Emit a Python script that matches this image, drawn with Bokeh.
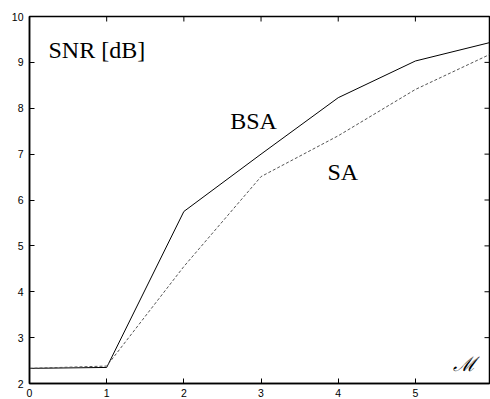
from bokeh.plotting import figure
from bokeh.models import LinearAxis, FixedTicker, Range1d
from bokeh.core.properties import value
from bokeh.embed import file_html
from bokeh.resources import INLINE

m_values = [0, 1, 2, 3, 4, 5, 5.96]
snr_bsa = [2.33, 2.35, 5.75, 7.0, 8.23, 9.03, 9.43]
snr_sa = [2.33, 2.38, 4.55, 6.51, 7.40, 8.41, 9.17]
x_ticks = [0, 1, 2, 3, 4, 5]
y_ticks = [2, 3, 4, 5, 6, 7, 8, 9, 10]
x_min, x_max = 0, 5.96
y_min, y_max = 2, 10

p = figure(frame_width=460, frame_height=367, output_backend="svg", toolbar_location=None,
           x_range=Range1d(x_min, x_max), y_range=Range1d(y_min, y_max),
           x_axis_location=None, y_axis_location=None,
           min_border_left=29, min_border_right=1, min_border_top=16, min_border_bottom=16)
p.grid.visible = False
p.outline_line_color = "black"
p.outline_line_width = 1.5
p.background_fill_color = "white"
p.border_fill_color = "white"

def style(ax):
    ax.axis_line_color = "black"
    ax.axis_line_width = 1.5
    ax.major_tick_in = 5
    ax.major_tick_out = 0
    ax.minor_tick_line_color = None
    ax.major_tick_line_color = "black"
    ax.major_label_text_font = "Liberation Sans"
    ax.major_label_text_font_size = "10.5px"
    ax.major_label_text_color = "black"

xb = LinearAxis(ticker=FixedTicker(ticks=x_ticks)); style(xb); xb.major_label_standoff = 5
yl = LinearAxis(ticker=FixedTicker(ticks=y_ticks)); style(yl); yl.major_label_standoff = 6
p.add_layout(xb, "below")
p.add_layout(yl, "left")

# tick marks on the top and right frame edges (half of each dash is clipped by the frame)
p.scatter(x_ticks, [y_max] * len(x_ticks), marker="dash", size=10, angle=1.5708,
          line_color="black", line_width=1)
p.scatter([x_max] * len(y_ticks), y_ticks, marker="dash", size=10,
          line_color="black", line_width=1)

p.line(m_values, snr_bsa, line_color="black", line_width=1)
p.line(m_values, snr_sa, line_color="#555555", line_width=1, line_dash="3 2")

p.text(x=[0.246], y=[9.26], text=["SNR [dB]"], text_font=value("Liberation Serif"),
       text_font_size="24px", text_baseline="alphabetic", text_align="left", text_color="black")
p.text(x=[2.60], y=[7.72], text=["BSA"], text_font=value("Liberation Serif"),
       text_font_size="24px", text_baseline="alphabetic", text_align="left", text_color="black")
p.text(x=[3.86], y=[6.62], text=["SA"], text_font=value("Liberation Serif"),
       text_font_size="24px", text_baseline="alphabetic", text_align="left", text_color="black")
p.text(x=[5.49], y=[2.42], text=["\u2133"], text_font=value("DejaVu Serif"),
       text_font_size="20px", text_font_style="italic", text_baseline="alphabetic",
       text_align="left", text_color="black")

open("out.html", "w").write(file_html(p, INLINE))
